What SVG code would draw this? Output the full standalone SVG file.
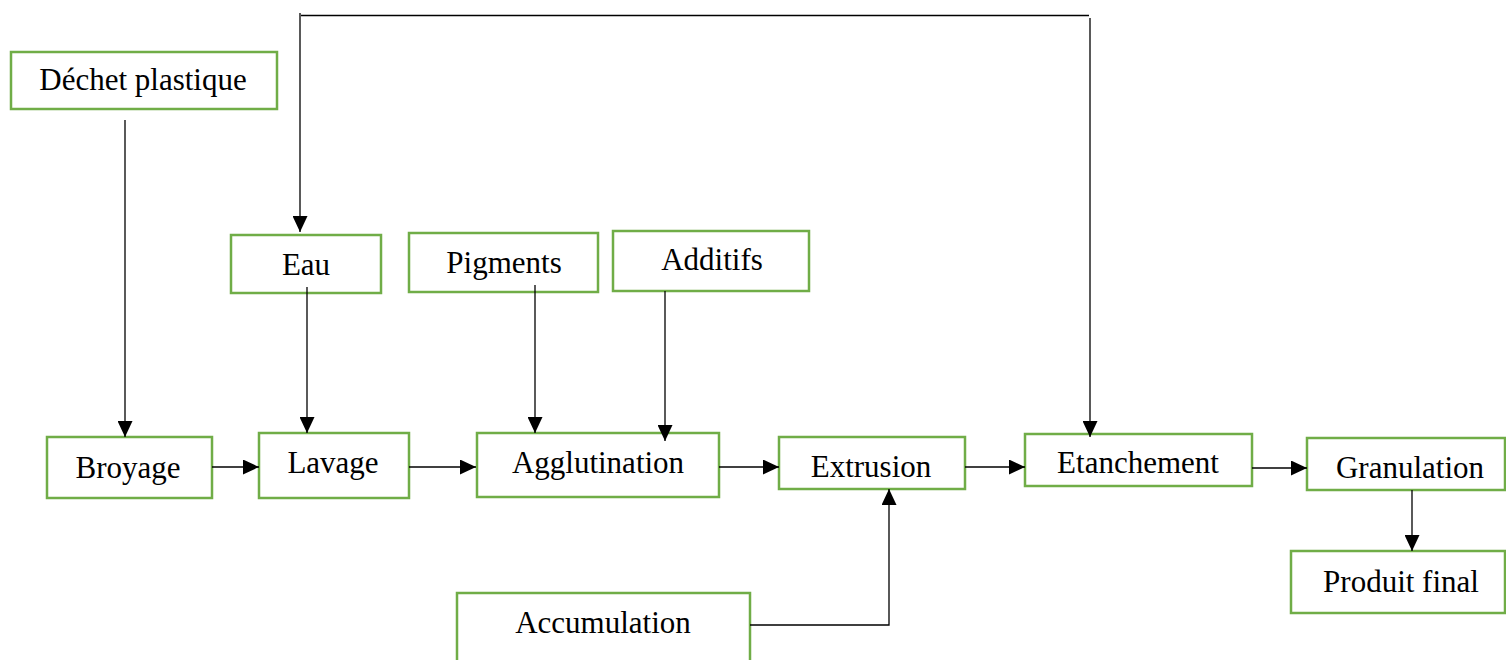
<svg xmlns="http://www.w3.org/2000/svg" width="1506" height="660" viewBox="0 0 1506 660">
<style>
.box{fill:#fff;stroke:#70AD47;stroke-width:2.5}
.lbl{font-family:"Liberation Serif","Times New Roman",serif;font-size:31px;fill:#000;text-anchor:middle}
.ln{fill:none;stroke:#000;stroke-width:1.3}
</style>
<defs>
<marker id="ah" viewBox="0 0 16 15" refX="16" refY="7.5" markerWidth="16" markerHeight="15" markerUnits="userSpaceOnUse" orient="auto">
<path d="M0,0 L16,7.5 L0,15 Z" fill="#000"/>
</marker>
</defs>
<rect width="1506" height="660" fill="#fff"/>
<g id="n-dechet"><rect class="box" x="11" y="52" width="266" height="57"/><text class="lbl" x="143" y="90">Déchet plastique</text></g>
<g id="n-eau"><rect class="box" x="231" y="235" width="150" height="58"/><text class="lbl" x="306" y="275">Eau</text></g>
<g id="n-pigments"><rect class="box" x="409" y="233" width="189" height="59"/><text class="lbl" x="504" y="273">Pigments</text></g>
<g id="n-additifs"><rect class="box" x="613" y="231" width="196" height="60"/><text class="lbl" x="712" y="270">Additifs</text></g>
<g id="n-broyage"><rect class="box" x="47" y="437" width="165" height="61"/><text class="lbl" x="128" y="478">Broyage</text></g>
<g id="n-lavage"><rect class="box" x="259" y="433" width="150" height="65"/><text class="lbl" x="333" y="473">Lavage</text></g>
<g id="n-agglutination"><rect class="box" x="477" y="433" width="242" height="64"/><text class="lbl" x="598" y="473">Agglutination</text></g>
<g id="n-extrusion"><rect class="box" x="779" y="437" width="186" height="52"/><text class="lbl" x="871" y="477">Extrusion</text></g>
<g id="n-etanchement"><rect class="box" x="1025" y="434" width="227" height="52"/><text class="lbl" x="1138" y="473">Etanchement</text></g>
<g id="n-granulation"><rect class="box" x="1307" y="438" width="198" height="52"/><text class="lbl" x="1410" y="478">Granulation</text></g>
<g id="n-produit"><rect class="box" x="1291" y="551" width="214" height="62"/><text class="lbl" x="1401" y="592">Produit final</text></g>
<g id="n-accumulation"><rect class="box" x="457" y="593" width="293" height="80"/><text class="lbl" x="603" y="633">Accumulation</text></g>
<g id="connectors">
<path class="ln" d="M125,120 V437" marker-end="url(#ah)"/>
<path class="ln" d="M212,467 H259" marker-end="url(#ah)"/>
<path class="ln" d="M409,467 H476" marker-end="url(#ah)"/>
<path class="ln" d="M719,467 H779" marker-end="url(#ah)"/>
<path class="ln" d="M965,467 H1025" marker-end="url(#ah)"/>
<path class="ln" d="M1252,468 H1307" marker-end="url(#ah)"/>
<path class="ln" d="M1412,490 V551" marker-end="url(#ah)"/>
<path class="ln" d="M307,287 V433" marker-end="url(#ah)"/>
<path class="ln" d="M535,285 V433" marker-end="url(#ah)"/>
<path class="ln" d="M665,291 V441" marker-end="url(#ah)"/>
<path class="ln" d="M750,625 H889 V489" marker-end="url(#ah)"/>
<path class="ln" d="M300,13 V232" marker-end="url(#ah)"/>
<path class="ln" d="M301,15.5 H1089"/>
<path class="ln" d="M1090,18 V437" marker-end="url(#ah)"/>
</g>
</svg>
